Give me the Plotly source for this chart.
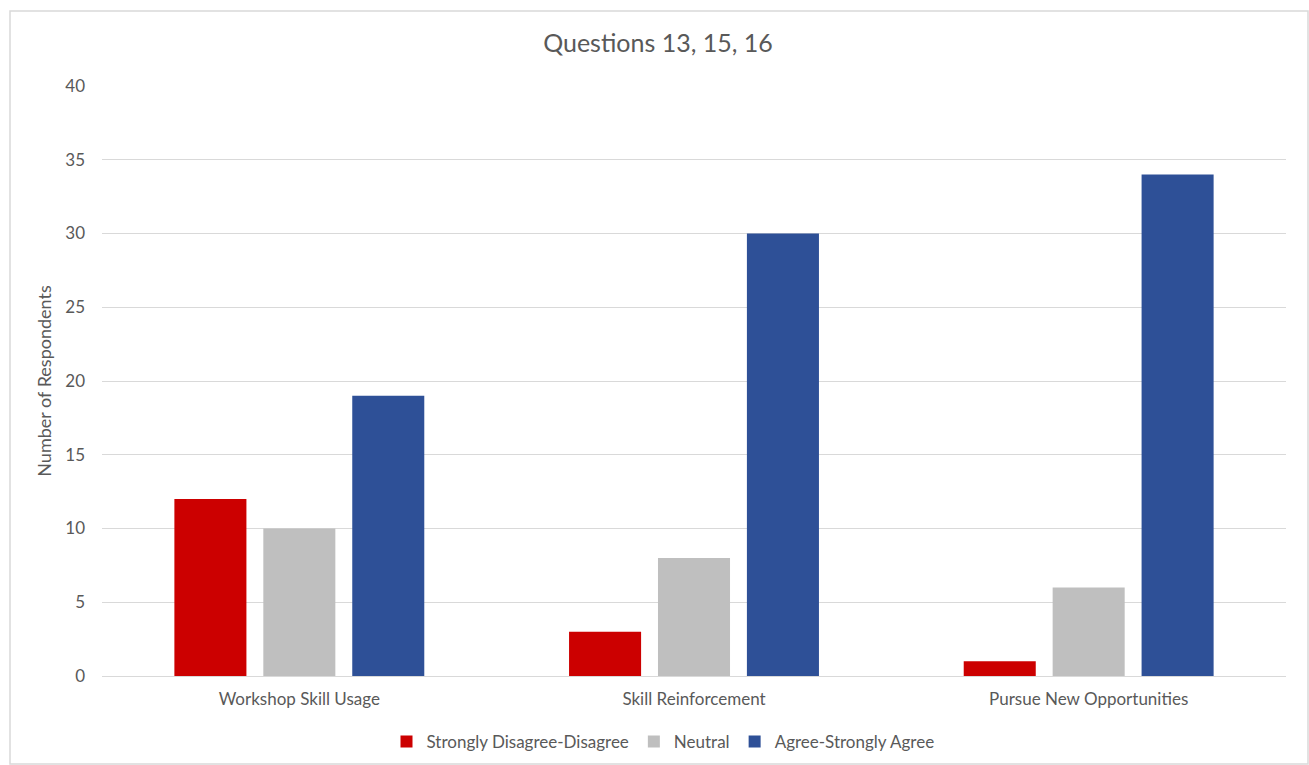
import plotly.graph_objects as go

categories = ["Workshop Skill Usage", "Skill Reinforcement", "Pursue New Opportunities"]
disagree = [12, 3, 1]
neutral = [10, 8, 6]
agree = [19, 30, 34]
series_names = ["Strongly Disagree-Disagree", "Neutral", "Agree-Strongly Agree"]
colors = ["#cc0000", "#bfbfbf", "#2e5097"]

W, H = 1309, 765
ml, mr, mt, mb = 102, 23, 86, 89

fig = go.Figure()
for name, vals, c in zip(series_names, [disagree, neutral, agree], colors):
    fig.add_trace(go.Bar(x=categories, y=vals, name=name, marker=dict(color=c, line=dict(width=0))))

font = "Lato, Open Sans, sans-serif"
txt = "#595959"
pw = W - ml - mr
ph = H - mt - mb
# frame rectangle in paper coords
x0 = (10 - ml) / pw
x1 = (1308 - ml) / pw
y1 = (H - mb - 11) / ph
y0 = (H - mb - 764) / ph

fig.update_layout(
    width=W, height=H,
    margin=dict(l=ml, r=mr, t=mt, b=mb, autoexpand=False),
    paper_bgcolor="white", plot_bgcolor="white",
    barmode="group", bargap=0.324, bargroupgap=0.19,
    title=dict(text="Questions 13, 15, 16", x=658 / W, xref="container", xanchor="center",
               y=1 - 43 / H, yref="container", yanchor="middle",
               font=dict(family=font, size=25, color=txt)),
    font=dict(family=font, color=txt),
    legend=dict(orientation="h", x=663 / W, xref="container", xanchor="center",
                y=1 - 742 / H, yref="container", yanchor="middle",
                font=dict(family=font, size=17, color=txt), traceorder="normal",
                itemwidth=30),
    shapes=[dict(type="rect", xref="paper", yref="paper", x0=x0, x1=x1, y0=y0, y1=y1,
                 line=dict(color="#d9d9d9", width=1.5), layer="below")],
)
fig.update_xaxes(showline=True, linecolor="#d9d9d9", linewidth=1, ticks="",
                 tickfont=dict(family=font, size=17, color=txt), ticklabelstandoff=8)
fig.update_yaxes(range=[0, 40], dtick=5, showgrid=True, gridcolor="#d9d9d9", gridwidth=1,
                 zeroline=False, showline=False, ticks="",
                 tickfont=dict(family=font, size=17, color=txt), ticklabelstandoff=16,
                 title=dict(text="Number of Respondents", font=dict(family=font, size=18, color=txt),
                            standoff=8))

fig.write_html("out.html")
